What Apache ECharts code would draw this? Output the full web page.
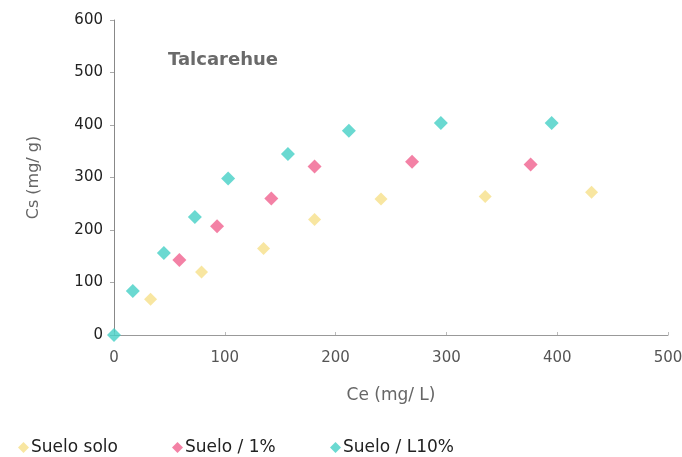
<!DOCTYPE html>
<html>
<head>
<meta charset="utf-8">
<script src="https://cdn.jsdelivr.net/npm/echarts@6/dist/echarts.min.js"></script>
<style>html,body{margin:0;padding:0;background:#fff}#c{width:682px;height:457px}</style>
</head>
<body>
<div id="c"></div>
<script>
const seriesNames = ['Suelo solo', 'Suelo / 1%', 'Suelo / L10%'];
const sueloSolo = [[33, 68], [79, 120], [135, 165], [181, 220], [241, 259], [335, 264], [431, 272]];
const suelo1 = [[59, 143], [93, 207], [142, 260], [181, 321], [269, 330], [376, 325]];
const sueloL10 = [[0, 0], [17, 84], [45, 156], [73, 225], [103, 298], [157, 345], [212, 389], [295, 404], [395, 404]];
const xTicks = [0, 100, 200, 300, 400, 500];
const yTicks = [0, 100, 200, 300, 400, 500, 600];
const colors = ['#F6E08A', '#F0628F', '#45CFC6'];

const chart = echarts.init(document.getElementById('c'));
const ff = 'DejaVu Sans, Verdana, sans-serif';
function legend(name, left) {
  return {
    data: [{ name: name, icon: 'diamond' }],
    left: left, top: 434, itemWidth: 11, itemHeight: 11, itemGap: 0,
    textStyle: { fontFamily: ff, fontSize: 17, color: '#222', padding: [0, 0, 0, -3] }
  };
}
chart.setOption({
  animation: false,
  color: colors,
  grid: { left: 114, right: 14, top: 20, bottom: 122, outerBoundsMode: 'none' },
  title: {
    text: 'Talcarehue', left: 163, top: 46,
    textStyle: { fontFamily: ff, fontSize: 18, fontWeight: 'bold', color: '#6a6a6a' }
  },
  legend: [legend(seriesNames[0], 13), legend(seriesNames[1], 167), legend(seriesNames[2], 325)],
  xAxis: {
    type: 'value', min: xTicks[0], max: xTicks[xTicks.length - 1], interval: 100,
    name: 'Ce (mg/ L)', nameLocation: 'middle', nameGap: 52,
    nameTextStyle: { fontFamily: ff, fontSize: 17, color: '#666' },
    axisLine: { show: true, lineStyle: { color: '#999', width: 1 } },
    axisTick: { show: true, length: 3, inside: true, lineStyle: { color: '#bbb' } },
    axisLabel: { fontFamily: ff, fontSize: 15, color: '#555', margin: 16 },
    splitLine: { show: false }
  },
  yAxis: {
    type: 'value', min: yTicks[0], max: yTicks[yTicks.length - 1], interval: 100,
    name: 'Cs (mg/ g)', nameLocation: 'middle', nameGap: 72, nameRotate: 90,
    nameTextStyle: { fontFamily: ff, fontSize: 16, color: '#666' },
    axisLine: { show: true, lineStyle: { color: '#888', width: 1 } },
    axisTick: { show: true, length: 4, lineStyle: { color: '#aaa' } },
    axisLabel: { fontFamily: ff, fontSize: 15, color: '#222', margin: 11 },
    splitLine: { show: false }
  },
  series: [
    { name: seriesNames[0], type: 'scatter', symbol: 'diamond', symbolSize: 13, data: sueloSolo },
    { name: seriesNames[1], type: 'scatter', symbol: 'diamond', symbolSize: 14, data: suelo1 },
    { name: seriesNames[2], type: 'scatter', symbol: 'diamond', symbolSize: 14, data: sueloL10 }
  ]
});
</script>
</body>
</html>
